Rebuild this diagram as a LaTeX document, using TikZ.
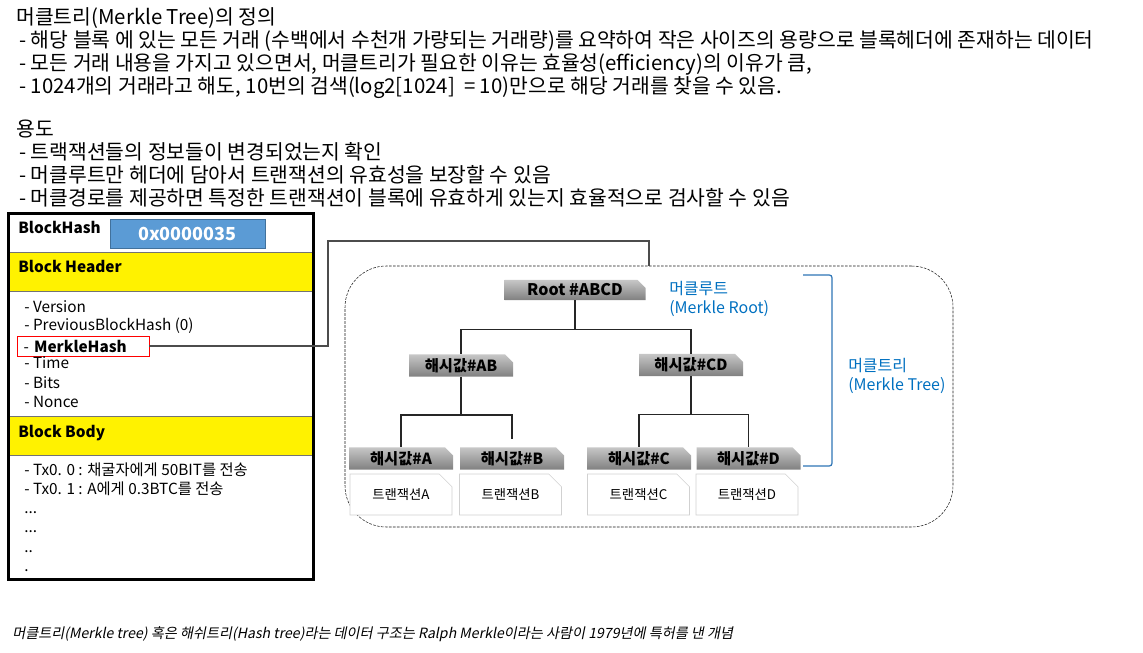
\documentclass[tikz,border=0pt]{standalone}
\usepackage{fontspec}
\setmainfont{Noto Sans CJK KR}
\newfontfamily\capfont[FakeSlant=0.2]{Noto Sans CJK KR}
\usetikzlibrary{shapes.misc}
\definecolor{hashblue}{RGB}{91,155,213}
\definecolor{hashblueline}{RGB}{65,113,156}
\definecolor{labelblue}{RGB}{0,112,192}
\definecolor{bracketblue}{RGB}{46,117,182}
\begin{document}
\begin{tikzpicture}[x=0.75pt,y=-0.75pt]
		\tikzstyle{txt}=[anchor=base west,inner sep=0pt,font=\fontsize{15.3}{18}\selectfont]
		\tikzstyle{blk}=[anchor=base west,inner sep=0pt,font=\fontsize{11.5}{14}\selectfont]
		\tikzstyle{blkhd}=[blk,font=\fontsize{11.5}{14}\selectfont\bfseries]
		\tikzstyle{hdrrow}=[fill=yellow,draw=black!55]
		\tikzstyle{hash}=[chamfered rectangle,chamfered rectangle corners=north east,chamfered rectangle xsep=3pt,chamfered rectangle ysep=3pt,top color=black!22,bottom color=black!50,draw=none,inner sep=0pt,minimum width=78pt,minimum height=12.75pt,font=\fontsize{11.5}{13}\selectfont\bfseries]
		\tikzstyle{tx}=[chamfered rectangle,chamfered rectangle corners=north east,chamfered rectangle xsep=5pt,chamfered rectangle ysep=5pt,draw=black!18,fill=white,inner sep=0pt,minimum width=76.5pt,minimum height=30.75pt,font=\fontsize{10}{12}\selectfont]
		\tikzstyle{lbl}=[anchor=west,inner sep=0pt,text=labelblue,font=\fontsize{12}{14}\selectfont]
		\tikzstyle{tree}=[draw=black!85,line width=0.9pt]
		\useasboundingbox (0,0) rectangle (1143,653);

		% description
		\node[txt] (def)  at (16,24)  {머클트리(Merkle Tree)의 정의};
		\node[txt] (def1) at (19,47)  {- 해당 블록 에 있는 모든 거래 (수백에서 수천개 가량되는 거래량)를 요약하여 작은 사이즈의 용량으로 블록헤더에 존재하는 데이터};
		\node[txt] (def2) at (19,70)  {- 모든 거래 내용을 가지고 있으면서, 머클트리가 필요한 이유는 효율성(efficiency)의 이유가 큼,};
		\node[txt] (def3) at (19,93)  {- 1024개의 거래라고 해도, 10번의 검색(log2[1024]\ \ = 10)만으로 해당 거래를 찾을 수 있음.};
		\node[txt] (use)  at (16,136) {용도};
		\node[txt] (use1) at (19,159) {- 트랙잭션들의 정보들이 변경되었는지 확인};
		\node[txt] (use2) at (19,182) {- 머클루트만 헤더에 담아서 트랜잭션의 유효성을 보장할 수 있음};
		\node[txt] (use3) at (19,205) {- 머클경로를 제공하면 특정한 트랜잭션이 블록에 유효하게 있는지 효율적으로 검사할 수 있음};

		% block
		\draw[hdrrow] (9,252) rectangle (312,291);
		\draw[hdrrow] (9,416) rectangle (312,455);
		\draw[line width=2.25pt] (8,213) rectangle (313,579);
		\node[blkhd] (bhash) at (18,233) {BlockHash};
		\node[fill=hashblue,draw=hashblueline,minimum width=116pt,minimum height=21.75pt,inner sep=0pt,text=white,font=\fontsize{13.5}{15}\selectfont\bfseries] (hval) at (187.5,233.5) {0x0000035};
		\node[blkhd] (bhead) at (18,272) {Block Header};
		\node[blk] (ver)  at (24,312) {- Version};
		\node[blk] (prev) at (24,330) {- PreviousBlockHash (0)};
		\node[draw=red,minimum width=99pt,minimum height=15pt,text width=89pt,inner xsep=5pt,inner ysep=0pt,font=\fontsize{11.5}{14}\selectfont] (mh) at (83,346) {- \textbf{MerkleHash}};
		\node[blk] (time)  at (24,368) {- Time};
		\node[blk] (bits)  at (24,388) {- Bits};
		\node[blk] (nonce) at (24,407) {- Nonce};
		\node[blkhd] (bbody) at (18,437) {Block Body};
		\node[blk] (tx0) at (24,475) {- Tx0. 0 : 채굴자에게 50BIT를 전송};
		\node[blk] (tx1) at (24,494) {- Tx0. 1 : A에게 0.3BTC를 전송};
		\node[blk] (d1) at (24,513) {...};
		\node[blk] (d2) at (24,532) {...};
		\node[blk] (d3) at (24,552) {..};
		\node[blk] (d4) at (24,571) {.};

		% merkle tree
		\node[draw=black!90,dash pattern=on 2pt off 1pt,rounded corners=31pt,minimum width=456pt,minimum height=195.75pt,inner sep=0pt] (mtree) at (649,396.5) {};
		\node[hash,minimum width=105.75pt,minimum height=13.5pt,font=\fontsize{12}{14}\selectfont\bfseries] (root) at (575,290) {Root \#ABCD};
		\node[hash] (hab) at (461,365.5) {해시값\#AB};
		\node[hash] (hcd) at (691,365)   {해시값\#CD};
		\node[hash] (ha) at (401,458.5)   {해시값\#A};
		\node[hash] (hb) at (512,458.5)   {해시값\#B};
		\node[hash] (hc) at (639,458.5)   {해시값\#C};
		\node[hash] (hd) at (748.5,458.5) {해시값\#D};
		\node[tx] (txa) at (401,494.5) {트랜잭션A};
		\node[tx] (txb) at (510.5,494.5) {트랜잭션B};
		\node[tx] (txc) at (638.5,494.5) {트랜잭션C};
		\node[tx] (txd) at (747,494.5) {트랜잭션D};
		\node[lbl] (rootk) at (669,289) {머클루트};
		\node[lbl] (roote) at (669,309) {(Merkle Root)};
		\node[lbl] (treek) at (848,366) {머클트리};
		\node[lbl] (treee) at (848,386) {(Merkle Tree)};

		\draw[tree] (root.south) -- ++(0,29) -| (hab.north);
		\draw[tree] (root.south) -- ++(0,29) -| (hcd.north);
		\draw[tree] (hab.south) -- ++(0,38) -| (ha.north);
		\draw[tree,shorten >=6pt] (hab.south) -- ++(0,38) -| (hb.north);
		\draw[tree] (hcd.south) -- ++(0,38) -| (hc.north);
		\draw[tree] (hcd.south) -- ++(0,38) -| (hd.north);

		% bracket
		\draw[bracketblue,line width=0.9pt,rounded corners=2pt] (803,275) -- (832,275) -- (832,466) -- (803,466);

		% link from header
		\coordinate (up) at (328,241);
		\coordinate (over) at (649,241);
		\draw[black!70,line width=0.9pt] (mh.east) -| (up) -- (over) -- (over |- mtree.north);

		% caption
		\node[anchor=west,inner sep=0pt,font=\capfont\fontsize{10.6}{12}\selectfont] (cap) at (12,634) {머클트리(Merkle tree) 혹은 해쉬트리(Hash tree)라는 데이터 구조는 Ralph Merkle이라는 사람이 1979년에 특허를 낸 개념};
\end{tikzpicture}
\end{document}
